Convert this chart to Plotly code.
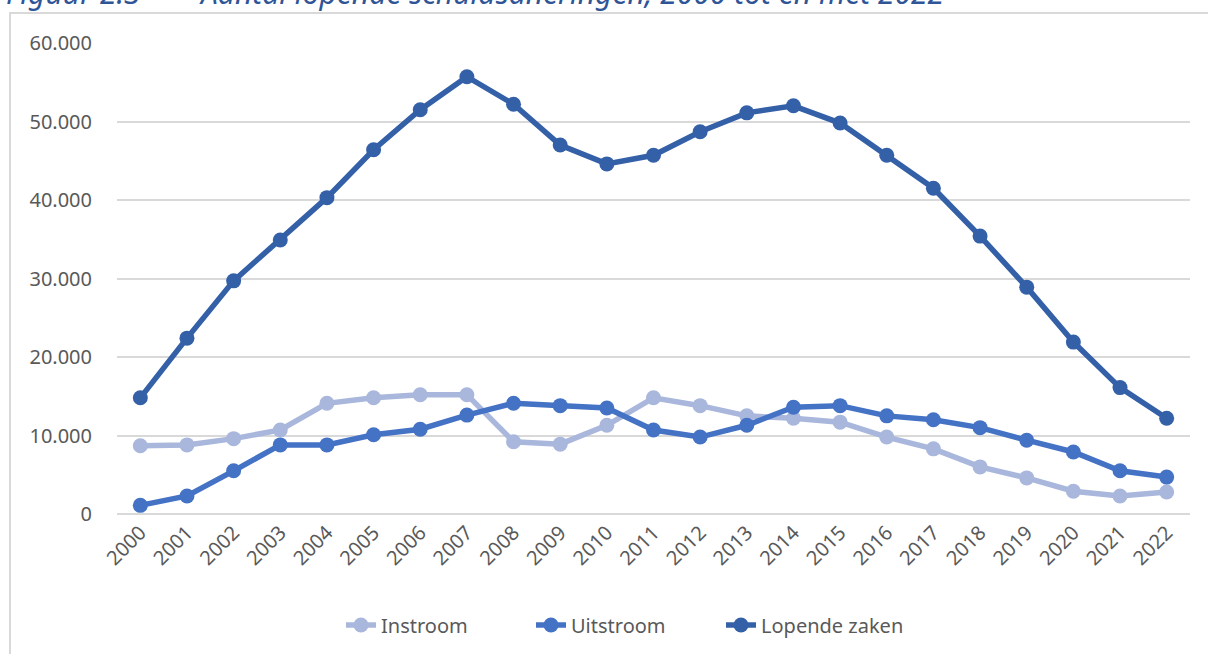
import plotly.graph_objects as go

years = [str(y) for y in range(2000, 2023)]
instroom = [8700, 8800, 9600, 10700, 14100, 14800, 15200, 15200, 9200, 8900, 11300, 14800,
            13800, 12500, 12200, 11700, 9800, 8300, 6000, 4600, 2900, 2300, 2800]
uitstroom = [1100, 2300, 5500, 8800, 8800, 10100, 10800, 12600, 14100, 13800, 13500, 10700,
             9800, 11300, 13600, 13800, 12500, 12000, 11000, 9400, 7900, 5500, 4700]
lopende = [14800, 22400, 29700, 34900, 40300, 46400, 51500, 55700, 52200, 47000, 44600, 45700,
           48700, 51100, 52000, 49800, 45700, 41500, 35400, 28900, 21900, 16100, 12200]
y_ticks = [0, 10000, 20000, 30000, 40000, 50000, 60000]

series = [("Instroom", instroom, "#A9B7DC"),
          ("Uitstroom", uitstroom, "#4472C4"),
          ("Lopende zaken", lopende, "#3460A8")]

W, H = 1208, 654
L, R, T, B = 117, 18, 43, 140
pw, ph = W - L - R, H - T - B

def px_x(x):
    return (x - L) / pw

def px_y(y):
    return (H - B - y) / ph

fig = go.Figure()
for name, vals, col in series:
    fig.add_trace(go.Scatter(
        x=years, y=vals, name=name, mode="lines+markers",
        line=dict(color=col, width=5.5),
        marker=dict(color=col, size=15),
    ))

font = "Noto Sans"
fig.update_layout(
    width=W, height=H,
    margin=dict(l=L, r=R, t=T, b=B, autoexpand=False),
    paper_bgcolor="white", plot_bgcolor="white",
    separators=",.",
    font=dict(family=font, color="#595959", size=20),
    xaxis=dict(type="category", range=[-0.5, len(years) - 0.5], tickangle=-45,
               showgrid=False, showline=False,
               ticks="", tickfont=dict(size=20, color="#595959"), ticklabelstandoff=2,
               automargin=False),
    yaxis=dict(range=[0, 60000], tickvals=y_ticks, tickformat=",d",
               showgrid=True, gridcolor="#D9D9D9", gridwidth=2,
               zeroline=True, zerolinecolor="#D9D9D9", zerolinewidth=2,
               showline=False, ticks="", tickfont=dict(size=20, color="#595959"),
               ticklabelstandoff=24, automargin=False),
    legend=dict(orientation="h", x=px_x(341), xanchor="left", y=px_y(625), yanchor="middle",
                font=dict(size=20, color="#595959"), entrywidth=145, entrywidthmode="pixels",
                traceorder="normal", bgcolor="rgba(0,0,0,0)"),
    showlegend=True,
)

# chart frame
fig.add_shape(type="rect", xref="paper", yref="paper",
              x0=px_x(10), x1=px_x(1230), y0=px_y(680), y1=px_y(13),
              line=dict(color="#D9D9D9", width=2), fillcolor="rgba(0,0,0,0)", layer="below")

title_col = "#2F5597"
fig.add_annotation(text="<i>Figuur 2.3</i>", xref="paper", yref="paper",
                   x=px_x(143), xanchor="right", y=px_y(15), yanchor="bottom",
                   showarrow=False, font=dict(family=font, size=30, color=title_col))
fig.add_annotation(text="<i>Aantal lopende schuldsaneringen, 2000 tot en met 2022</i>",
                   xref="paper", yref="paper",
                   x=px_x(197), xanchor="left", y=px_y(15), yanchor="bottom",
                   showarrow=False, font=dict(family=font, size=30, color=title_col))

fig.write_html("out.html", config={"displayModeBar": False},
               post_script="document.body.style.margin='0';document.body.style.overflow='hidden';")
